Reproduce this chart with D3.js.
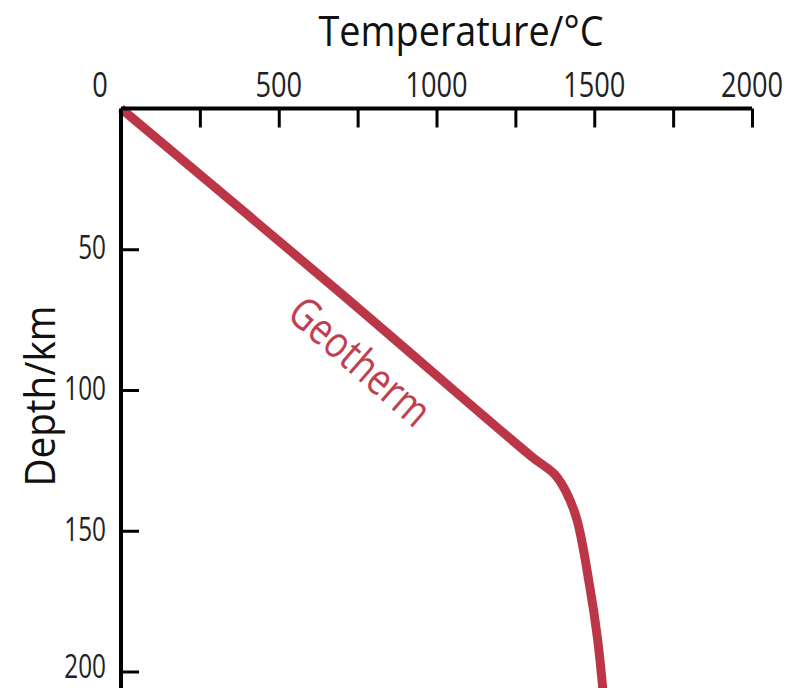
<!DOCTYPE html>
<html>
<head>
<meta charset="utf-8">
<script src="https://cdn.jsdelivr.net/npm/d3@7"></script>
<style>
  body { margin: 0; background: white; }
  svg { display: block; }
</style>
</head>
<body>
<div id="chart"></div>
<script>
// Geotherm values
const temperature = [0, 690, 1300, 1375, 1410, 1445, 1486, 1510, 1527];
const depth = [0, 65, 123.5, 130, 136, 146, 170, 188, 206];
const xTicks = [0, 250, 500, 750, 1000, 1250, 1500, 1750, 2000];
const xLabels = [0, 500, 1000, 1500, 2000];
const yLabels = [50, 100, 150, 200];

const lineColor = "#bb3646";
const fontFamily = "'Open Sans', sans-serif";

let dimensions = {
  width: 792,
  height: 688,
  margins: { top: 108.5, left: 121 }
};

const wrapper = d3.select("#chart")
  .append("svg")
  .attr("width", dimensions.width)
  .attr("height", dimensions.height)
  .style("background-color", "white");

//Create scales
const xScale = d3.scaleLinear()
  .domain([0, 2000])
  .range([121, 752]);

const yScale = d3.scaleLinear()
  .domain([0, 200])
  .range([108.5, 671.5]);

const points = temperature.map((t, i) => ({ t, d: depth[i] }));

// curve
const lineGenerator = d3.line()
  .curve(d3.curveCatmullRom.alpha(0.5))
  .x((d) => xScale(d.t))
  .y((d) => yScale(d.d));

wrapper.append("path")
  .attr("d", lineGenerator(points))
  .attr("fill", "none")
  .attr("stroke", lineColor)
  .attr("stroke-width", 9);

//Draw axis
const xAxis = d3.axisTop(xScale)
  .tickValues(xTicks)
  .tickSize(-19)
  .tickFormat("");

wrapper.append("g")
  .attr("transform", `translate(0,${dimensions.margins.top})`)
  .call(xAxis)
  .call((g) => g.select(".domain").attr("stroke-width", 4).attr("d", `M${xScale(0)},0H${xScale(2000)}`))
  .call((g) => g.selectAll(".tick line").attr("stroke-width", 3));

const yAxis = d3.axisLeft(yScale)
  .tickValues(yLabels)
  .tickSize(-18)
  .tickFormat("");

wrapper.append("g")
  .attr("transform", `translate(${dimensions.margins.left},0)`)
  .call(yAxis)
  .call((g) => g.select(".domain").attr("stroke-width", 4).attr("d", `M0,${yScale(0)}V${dimensions.height}`))
  .call((g) => g.selectAll(".tick line").attr("stroke-width", 3));

// tick labels (keep the last one inside the picture)
wrapper.append("g")
  .selectAll("text")
  .data(yLabels)
  .join("text")
  .attr("transform", (d) => `translate(${dimensions.margins.left - 15},${Math.min(yScale(d) + 10, dimensions.height - 10)}) scale(0.76,1)`)
  .attr("text-anchor", "end")
  .attr("font-size", 32)
  .attr("font-family", fontFamily)
  .attr("fill", "#222")
  .text((d) => d);

wrapper.append("g")
  .selectAll("text")
  .data(xLabels)
  .join("text")
  .attr("transform", (d) => `translate(${d === 0 ? xScale(0) - 21 : xScale(d)},97) scale(0.8,1)`)
  .attr("text-anchor", "middle")
  .attr("font-size", 34)
  .attr("font-family", fontFamily)
  .attr("fill", "#222")
  .text((d) => d);

// titles
wrapper.append("text")
  .attr("transform", `translate(461,46) scale(0.9,1)`)
  .attr("text-anchor", "middle")
  .attr("font-size", 42)
  .attr("font-family", fontFamily)
  .attr("fill", "#111")
  .text("Temperature/°C");

wrapper.append("text")
  .attr("transform", `translate(55,396) rotate(-90) scale(0.92,1)`)
  .attr("text-anchor", "middle")
  .attr("font-size", 42)
  .attr("font-family", fontFamily)
  .attr("fill", "#111")
  .text("Depth/km");

// curve label
wrapper.append("text")
  .attr("transform", `translate(350,373) rotate(41) scale(0.82,1)`)
  .attr("text-anchor", "middle")
  .attr("font-size", 44)
  .attr("font-family", fontFamily)
  .attr("fill", "#c04050")
  .text("Geotherm");
</script>
</body>
</html>
